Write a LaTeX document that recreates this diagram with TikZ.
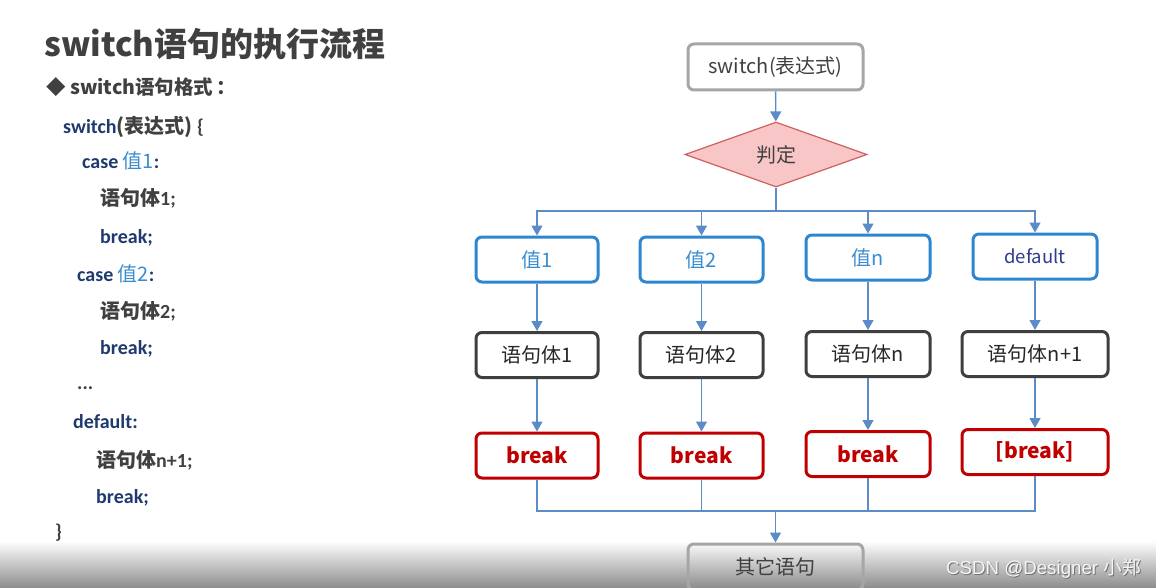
\documentclass[tikz,border=0pt]{standalone}
\usepackage{fontspec}
\setmainfont{Carlito}
\newfontfamily\cjk{Noto Sans CJK SC}
\newfontfamily\wmfont{Liberation Sans}
\usetikzlibrary{shapes.geometric,arrows.meta}
\definecolor{navy}{HTML}{1F3A6E}
\definecolor{valtext}{HTML}{3A8DD0}
\definecolor{deftext}{HTML}{2F3B8B}
\definecolor{darkgr}{HTML}{404040}
\definecolor{linec}{HTML}{5B8CC8}
\definecolor{valc}{HTML}{2E86D1}
\definecolor{stmtc}{HTML}{3F3F3F}
\definecolor{brkc}{HTML}{C00000}
\definecolor{grayc}{HTML}{A6A6A6}
\definecolor{decfill}{HTML}{F8C6C6}
\definecolor{decdraw}{HTML}{D06060}
\tikzset{
  conn/.style={draw=linec, line width=1.4pt},
  arr/.style={conn, -{Triangle[length=10pt,width=11pt]}},
  box/.style={rectangle, rounded corners=6pt, line width=3pt, minimum width=122pt, minimum height=45pt, inner sep=0pt, fill=white, font=\cjk\fontsize{20}{24}\selectfont},
  valbox/.style={box, draw=valc, text=valtext},
  stmtbox/.style={box, draw=stmtc, text=black!85},
  brkbox/.style={box, draw=brkc, text=brkc, font=\cjk\bfseries\fontsize{21}{24}\selectfont},
  graybox/.style={box, draw=grayc, minimum width=175pt, minimum height=46pt, text=darkgr},
  code/.style={anchor=base west, inner sep=0pt, text=darkgr, font=\bfseries\fontsize{20}{24}\selectfont}
}
\newcommand{\K}[1]{\textcolor{navy}{#1}}
\newcommand{\V}[1]{\textcolor{valtext}{\mdseries{\cjk #1}}}
\newcommand{\C}[1]{{\cjk\bfseries\fontsize{20}{24}\selectfont #1}}
\begin{document}
\begin{tikzpicture}[x=1pt,y=-1pt]
\path[use as bounding box] (0,0) rectangle (1156,588);
\fill[white] (0,0) rectangle (1156,588);

% title and code
\node[anchor=base west, inner sep=0pt, text=darkgr, font=\cjk\bfseries\fontsize{33}{40}\selectfont] (title) at (44,57) {switch语句的执行流程};
\node[anchor=base west, inner sep=0pt, text=darkgr, font=\cjk\bfseries\fontsize{19.5}{24}\selectfont] (sub) at (46,95) {◆ switch语句格式\hspace{3pt}：};
\node[code] (c1) at (63,134) {\K{switch}\C{(表达式)} \{};
\node[code] (c2) at (82,169) {\K{case} \V{值1}\K{:}};
\node[code] (c3) at (100,206) {\C{语句体}1;};
\node[code] (c4) at (100,243) {\K{break;}};
\node[code] (c5) at (77,281) {\K{case} \V{值2}\K{:}};
\node[code] (c6) at (100,318) {\C{语句体}2;};
\node[code] (c7) at (100,354) {\K{break;}};
\node[code] (c8) at (77,389) {...};
\node[code] (c9) at (73,428) {\K{default:}};
\node[code] (c10) at (96,467) {\C{语句体}n+1;};
\node[code] (c11) at (96,503) {\K{break;}};
\node[code] (c12) at (55,538) {\}};

% flowchart
\node[graybox] (sw) at (775.5,67) {switch(表达式)};
\node[diamond, draw=decdraw, fill=decfill, line width=1.2pt, minimum width=182pt, minimum height=65pt, inner sep=0pt, aspect=2.8, text=darkgr, font=\cjk\fontsize{20}{24}\selectfont] (dec) at (776,154.5) {判定};
\draw[arr] (sw) -- (dec);

\node[valbox] (v1) at (537,259.5) {值1};
\node[valbox, minimum width=123pt] (v2) at (701.5,259.5) {值2};
\node[valbox, minimum width=124pt] (vn) at (868,257.5) {值n};
\node[valbox, minimum width=124pt, text=deftext, font=\cjk\fontsize{18.5}{22}\selectfont] (vd) at (1035,256.5) {default};

\node[stmtbox] (s1) at (537,355) {语句体1};
\node[stmtbox, minimum width=123pt] (s2) at (701.5,355) {语句体2};
\node[stmtbox, minimum width=124pt] (sn) at (868,354) {语句体n};
\node[stmtbox, minimum width=146pt] (sd) at (1035,354) {语句体n+1};

\node[brkbox] (b1) at (537,455.5) {break};
\node[brkbox, minimum width=123pt] (b2) at (701.5,455.5) {break};
\node[brkbox, minimum width=124pt] (bn) at (868,454) {break};
\node[brkbox, minimum width=146pt] (bd) at (1035,452) {[break]};

\coordinate (bus) at (776,211);
\draw[conn] (dec) -- (bus);
\draw[arr] (bus) -| (v1);
\draw[arr] (bus) -| (v2);
\draw[arr] (bus) -| (vn);
\draw[arr] (bus) -| (vd);
\foreach \a/\b in {v1/s1,v2/s2,vn/sn,vd/sd,s1/b1,s2/b2,sn/bn,sd/bd}
  \draw[arr] (\a) -- (\b);

\coordinate (join) at (775.5,511);
\draw[conn] (b1) |- (join);
\draw[conn] (b2) |- (join);
\draw[conn] (bn) |- (join);
\draw[conn] (bd) |- (join);

% bottom shaded band
\shade[top color=white, bottom color=black!45] (0,541) rectangle (1156,588);
\node[graybox, fill=none] (other) at (775.5,567) {其它语句};
\draw[arr] (join) -- (other);

% watermark
\node[anchor=base west, inner sep=0pt, text=black!55, font=\wmfont\fontsize{18.7}{20}\selectfont] (wms) at (947,575) {CSDN @Designer {\cjk 小郑}};
\node[anchor=base west, inner sep=0pt, text=white!96!black, font=\wmfont\fontsize{18.7}{20}\selectfont] (wm) at (946,574) {CSDN @Designer {\cjk 小郑}};
\end{tikzpicture}
\end{document}
